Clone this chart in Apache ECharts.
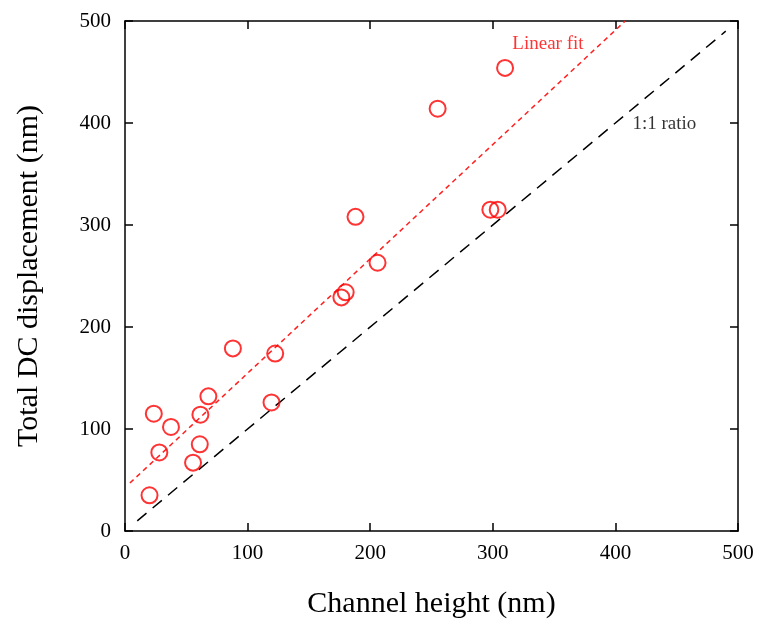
<!DOCTYPE html>
<html style="height: 100%">
<head>
<meta charset="utf-8">
<script src="https://cdn.jsdelivr.net/npm/echarts@6/dist/echarts.min.js"></script>
</head>
<body style="height: 100%; margin: 0; background: #fff">
<div id="container" style="width: 757px; height: 620px"></div>
<script type="text/javascript">
// measured points: channel height vs total DC displacement (nm)
var channelHeight = [20, 23.5, 28, 37.5, 55.5, 61, 61.5, 68, 88, 119.5, 122.5, 176.5, 180, 188, 206, 255, 298, 304, 310];
var displacement = [35, 115, 77, 102, 67, 85, 114, 132, 179, 126, 174, 229, 234, 308, 263, 414, 315, 315, 454];
// fitted line and 1:1 reference, endpoints as drawn
var fitLine = [[4, 47], [408, 500]];
var ratioLine = [[10, 10], [490, 490]];
var axisTicks = [0, 100, 200, 300, 400, 500];

var pts = [];
for (var i = 0; i < channelHeight.length; i++) {
	pts.push([channelHeight[i], displacement[i]]);
}

var font = "'Liberation Serif', 'Times New Roman', serif";
var dom = document.getElementById("container");
var myChart = echarts.init(dom, null, { renderer: 'canvas' });

function axisBase(show) {
	return {
		min: axisTicks[0],
		max: axisTicks[axisTicks.length - 1],
		interval: 100,
		axisLine: { show: true, onZero: false, lineStyle: { color: '#000', width: 1.5 } },
		axisTick: { show: true, inside: true, length: 8, lineStyle: { color: '#000', width: 1.5 } },
		splitLine: { show: false },
		axisLabel: { show: show, color: '#000', fontFamily: font, fontSize: 21 }
	};
}

var xMain = axisBase(true);
xMain.type = 'value';
xMain.position = 'bottom';
xMain.name = 'Channel height (nm)';
xMain.nameLocation = 'middle';
xMain.nameGap = 58;
xMain.nameTextStyle = { color: '#000', fontFamily: font, fontSize: 30 };
xMain.axisLabel.margin = 12;

var xTop = axisBase(false);
xTop.type = 'value';
xTop.position = 'top';

var yMain = axisBase(true);
yMain.type = 'value';
yMain.position = 'left';
yMain.name = 'Total DC displacement (nm)';
yMain.nameLocation = 'middle';
yMain.nameGap = 81;
yMain.nameTextStyle = { color: '#000', fontFamily: font, fontSize: 30 };
yMain.axisLabel.margin = 14;

var yRight = axisBase(false);
yRight.type = 'value';
yRight.position = 'right';

var option = {
	backgroundColor: '#fff',
	animation: false,
	grid: { left: 125, right: 19, top: 21, bottom: 89, containLabel: false, outerBoundsMode: 'none' },
	xAxis: [xMain, xTop],
	yAxis: [yMain, yRight],
	series: [
		{
			type: 'line',
			data: ratioLine,
			symbol: 'none',
			lineStyle: { color: '#000', width: 1.5, type: [12, 8] },
			z: 2
		},
		{
			type: 'line',
			data: fitLine,
			symbol: 'none',
			lineStyle: { color: '#ff2020', width: 1.5, type: [5, 4] },
			z: 2
		},
		{
			type: 'scatter',
			data: pts,
			symbol: 'circle',
			symbolSize: 16,
			itemStyle: { color: 'rgba(0,0,0,0)', borderColor: '#ff0000', borderWidth: 2 },
			z: 3
		},
		{
			type: 'scatter',
			symbolSize: 0,
			silent: true,
			data: [
				{ value: [345, 477], label: { formatter: 'Linear fit', color: '#ff0000' } },
				{ value: [440, 399], label: { formatter: '1:1 ratio', color: '#000' } }
			],
			label: { show: true, position: 'inside', fontFamily: font, fontSize: 19 }
		}
	]
};

if (option && typeof option === "object") {
	myChart.setOption(option, true);
}
</script>
</body>
</html>
